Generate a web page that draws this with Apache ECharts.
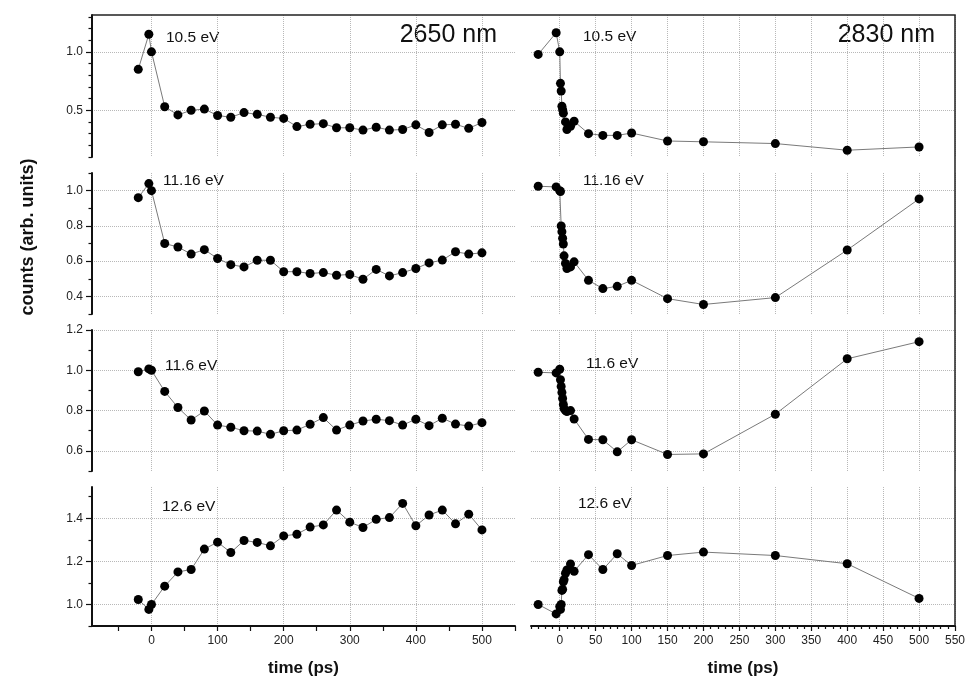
<!DOCTYPE html>
<html><head><meta charset="utf-8">
<script src="https://cdn.jsdelivr.net/npm/echarts@6/dist/echarts.min.js"></script>
<style>html,body{margin:0;padding:0;background:#fff}#c{width:968px;height:678px}</style>
</head><body><div id="c"></div>
<script>
// ---------------- data ----------------
const timeLeft = [-20, -4, 0, 20, 40, 60, 80, 100, 120, 140, 160, 180, 200, 220, 240, 260, 280, 300, 320, 340, 360, 380, 400, 420, 440, 460, 480, 500];
const left_10_5  = [0.85, 1.15, 1.00, 0.53, 0.46, 0.50, 0.51, 0.455, 0.44, 0.48, 0.465, 0.44, 0.43, 0.36, 0.38, 0.385, 0.35, 0.35, 0.33, 0.355, 0.33, 0.335, 0.375, 0.31, 0.375, 0.38, 0.345, 0.395];
const left_11_16 = [0.96, 1.04, 1.00, 0.70, 0.68, 0.64, 0.665, 0.615, 0.58, 0.567, 0.605, 0.605, 0.54, 0.54, 0.53, 0.535, 0.52, 0.524, 0.497, 0.553, 0.516, 0.535, 0.558, 0.59, 0.606, 0.653, 0.64, 0.647];
const left_11_6  = [0.993, 1.007, 1.00, 0.895, 0.815, 0.753, 0.798, 0.728, 0.717, 0.70, 0.698, 0.682, 0.70, 0.703, 0.732, 0.765, 0.703, 0.728, 0.748, 0.757, 0.75, 0.728, 0.757, 0.725, 0.762, 0.733, 0.723, 0.74];
const left_12_6  = [1.023, 0.977, 1.00, 1.085, 1.151, 1.162, 1.257, 1.289, 1.241, 1.297, 1.288, 1.272, 1.318, 1.326, 1.359, 1.369, 1.438, 1.382, 1.357, 1.395, 1.403, 1.469, 1.365, 1.415, 1.438, 1.374, 1.419, 1.346];

const timeRight = [-30, -5, 0, 1, 2, 3, 4, 5, 6, 8, 10, 15, 20, 40, 60, 80, 100, 150, 200, 300, 400, 500];
const right_10_5  = [0.978, 1.163, 1.00, 0.73, 0.665, 0.535, 0.505, 0.475, null, 0.40, 0.335, 0.363, 0.406, 0.30, 0.285, 0.285, 0.305, 0.237, 0.23, 0.215, 0.158, 0.186];
const right_11_16 = [1.025, 1.021, 1.00, 0.995, 0.80, 0.767, 0.73, 0.697, 0.63, 0.587, 0.558, 0.567, 0.596, 0.491, 0.444, 0.457, 0.491, 0.387, 0.354, 0.393, 0.663, 0.953];
const right_11_6  = [0.99, 0.987, 1.005, 0.953, 0.92, 0.89, 0.86, 0.83, 0.81, 0.80, 0.795, 0.80, 0.758, 0.657, 0.655, 0.595, 0.655, 0.582, 0.585, 0.782, 1.057, 1.142];
const right_12_6  = [1.0, 0.956, 0.99, 0.977, 1.0, 1.065, 1.07, 1.105, 1.115, 1.145, 1.16, 1.188, 1.154, 1.231, 1.162, 1.235, 1.181, 1.227, 1.243, 1.227, 1.189, 1.028];

const energyLabels = ['10.5 eV', '11.16 eV', '11.6 eV', '12.6 eV'];
const wavelengthLabels = ['2650 nm', '2830 nm'];

const yMajorTicks = [[0.5, 1.0], [0.4, 0.6, 0.8, 1.0], [0.6, 0.8, 1.0, 1.2], [1.0, 1.2, 1.4]];
const yMinorTicks = [
  [0.1, 0.2, 0.3, 0.4, 0.6, 0.7, 0.8, 0.9, 1.1, 1.2, 1.3],
  [0.3, 0.5, 0.7, 0.9, 1.1],
  [0.5, 0.7, 0.9, 1.1],
  [0.9, 1.1, 1.3, 1.5]
];
const yRanges = [[0.1, 1.315], [0.3, 1.1], [0.5, 1.2], [0.9, 1.545]];

const xLeftRange = [-90, 550];
const xLeftLabels = [0, 100, 200, 300, 400, 500];
const xLeftMinorTicks = [-50, 50, 150, 250, 350, 450, 550];
const xRightRange = [-40, 550];
const xRightLabels = [0, 50, 100, 150, 200, 250, 300, 350, 400, 450, 500, 550];
const xRightMinorTicks = [-40, -30, -20, -10, 10, 20, 30, 40, 60, 70, 80, 90, 110, 120, 130, 140, 160, 170, 180, 190, 210, 220, 230, 240, 260, 270, 280, 290, 310, 320, 330, 340, 360, 370, 380, 390, 410, 420, 430, 440, 460, 470, 480, 490, 510, 520, 530, 540];

// ---------------- layout ----------------
const FONT = '"Liberation Sans", Arial, Helvetica, sans-serif';
const rowTop = [15, 173, 330, 487];
const rowH = [142, 141, 141, 139];
const panelLeft = [92, 531];
const panelW = [423, 424];

const leftVals = [left_10_5, left_11_16, left_11_6, left_12_6];
const rightVals = [right_10_5, right_11_16, right_11_6, right_12_6];

const grids = [], xAxes = [], yAxes = [], series = [];
const grid = {type: 'dotted', color: '#b8b8b8', width: 1};
const axisCol = '#111';

for (let r = 0; r < 4; r++) {
  for (let p = 0; p < 2; p++) {
    const g = grids.length;
    grids.push({left: panelLeft[p], width: panelW[p], top: rowTop[r], height: rowH[r]});
    const bottom = r === 3;
    const xr = p ? xRightRange : xLeftRange;
    const xl = p ? xRightLabels : xLeftLabels;
    const xm = p ? xRightMinorTicks : xLeftMinorTicks;
    const xi = xAxes.length;
    xAxes.push({
      type: 'value', gridIndex: g, min: xr[0], max: xr[1], position: 'bottom',
      axisLine: {show: bottom, onZero: false, lineStyle: {color: axisCol, width: 2}},
      axisTick: {show: bottom, customValues: xl, length: 5, lineStyle: {color: axisCol, width: 1.2}},
      axisLabel: {show: bottom, customValues: xl, margin: 9, color: '#222', fontSize: 12, fontFamily: FONT},
      splitLine: {show: true, lineStyle: grid},
      name: bottom ? 'time (ps)' : '', nameLocation: 'middle', nameGap: 34,
      nameTextStyle: {fontWeight: 'bold', fontSize: 17, color: '#111', fontFamily: FONT}
    });
    xAxes.push({
      type: 'value', gridIndex: g, min: xr[0], max: xr[1], position: 'bottom',
      axisLine: {show: false, onZero: false},
      axisTick: {show: bottom, customValues: xm, length: p ? 3 : 5, lineStyle: {color: axisCol, width: 1.2}},
      axisLabel: {show: false}, splitLine: {show: false}
    });
    const yi = yAxes.length;
    yAxes.push({
      type: 'value', gridIndex: g, min: yRanges[r][0], max: yRanges[r][1], position: 'left',
      axisLine: {show: p === 0, onZero: false, lineStyle: {color: axisCol, width: 2}},
      axisTick: {show: p === 0, customValues: yMajorTicks[r], length: 6, lineStyle: {color: axisCol, width: 1.2}},
      axisLabel: {show: p === 0, customValues: yMajorTicks[r], margin: 9, color: '#222', fontSize: 12, fontFamily: FONT,
        formatter: v => v.toFixed(1)},
      splitLine: {show: true, lineStyle: grid}
    });
    if (p === 0) {
      yAxes.push({
        type: 'value', gridIndex: g, min: yRanges[r][0], max: yRanges[r][1], position: 'left',
        axisLine: {show: false, onZero: false},
        axisTick: {show: true, customValues: yMinorTicks[r], length: 3.5, lineStyle: {color: axisCol, width: 1.2}},
        axisLabel: {show: false}, splitLine: {show: false}
      });
    }
    const times = p ? timeRight : timeLeft;
    const vals = p ? rightVals[r] : leftVals[r];
    series.push({
      type: 'line', xAxisIndex: xi, yAxisIndex: yi,
      data: times.map((t, i) => [t, vals[i]]),
      connectNulls: true,
      symbol: 'circle', symbolSize: 9,
      itemStyle: {color: '#000'},
      lineStyle: {color: '#7a7a7a', width: 1},
      animation: false
    });
  }
}

const labelPos = [
  [[166, 38], [583, 37]],
  [[163, 181], [583, 181]],
  [[165, 366], [586, 364]],
  [[162, 507], [578, 504]]
];
const graphics = [];
for (let r = 0; r < 4; r++) {
  for (let p = 0; p < 2; p++) {
    graphics.push({type: 'text', x: labelPos[r][p][0], y: labelPos[r][p][1],
      style: {text: energyLabels[r], fill: '#111', font: '15.5px ' + FONT, textAlign: 'left', textVerticalAlign: 'middle'}});
  }
}
graphics.push({type: 'text', x: 497, y: 35, style: {text: wavelengthLabels[0], fill: '#111', font: '25px ' + FONT, textAlign: 'right', textVerticalAlign: 'middle'}});
graphics.push({type: 'text', x: 935, y: 35, style: {text: wavelengthLabels[1], fill: '#111', font: '25px ' + FONT, textAlign: 'right', textVerticalAlign: 'middle'}});
graphics.push({type: 'text', x: 28, y: 237, rotation: Math.PI / 2,
  style: {text: 'counts (arb. units)', fill: '#111', font: 'bold 18px ' + FONT, textAlign: 'center', textVerticalAlign: 'middle'}});
graphics.push({type: 'polyline', shape: {points: [[panelLeft[0], rowTop[0]], [panelLeft[1] + panelW[1], rowTop[0]], [panelLeft[1] + panelW[1], rowTop[3] + rowH[3]]]},
  style: {stroke: '#222', lineWidth: 1.5, fill: null}, z: 10});

const chart = echarts.init(document.getElementById('c'), null, {renderer: 'canvas'});
chart.setOption({
  animation: false,
  backgroundColor: '#fff',
  grid: grids, xAxis: xAxes, yAxis: yAxes, series: series,
  graphic: graphics
});
</script>
</body></html>
